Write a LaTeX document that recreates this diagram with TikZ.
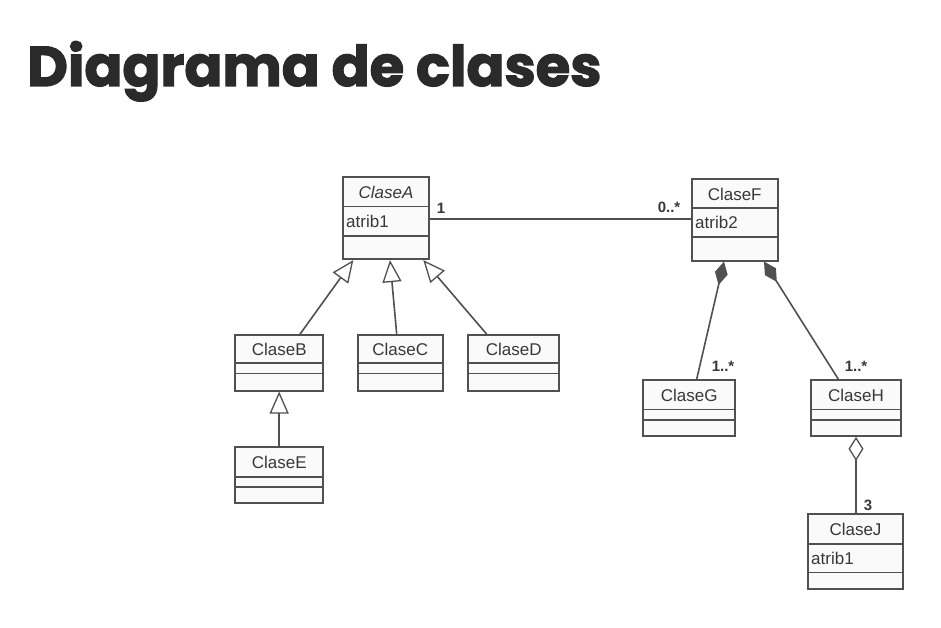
\documentclass[tikz,border=0pt]{standalone}
\usepackage{fontspec}
\setmainfont{Liberation Sans}
\newfontfamily\titlefont{Poppins}[BoldFeatures={FakeBold=2.2}]
\usetikzlibrary{arrows.meta}
\definecolor{ln}{HTML}{505050}
\definecolor{tx}{HTML}{383838}
\definecolor{ttl}{HTML}{2A2A2A}
\definecolor{bx}{HTML}{FAFAFA}
\tikzset{
  cls/.style={draw=ln, line width=1.7pt, fill=bx, inner sep=0pt},
  nm/.style={text=tx, font=\fontsize{17}{19}\selectfont, inner sep=0pt, anchor=center},
  attr/.style={text=tx, font=\fontsize{17}{19}\selectfont, inner sep=0pt, anchor=west},
  mult/.style={text=tx, font=\bfseries\fontsize{15}{17}\selectfont, inner sep=0pt},
  rel/.style={draw=ln, line width=1.6pt},
  gen/.style={rel, -{Triangle[open, length=22pt, width=19pt, line width=1.3pt, fill=white]}},
  comp/.style={rel, {Diamond[length=24pt, width=13pt, fill=ln]}-},
  aggr/.style={rel, {Diamond[open, length=24pt, width=15pt, line width=1.3pt, fill=white]}-},
}
% \umlclass{id}{x1}{y1}{x2}{y2}{d1}{d2}
\newcommand{\umlclass}[7]{%
  \node[cls, minimum width={(#4-#2)*1pt}, minimum height={(#5-#3)*1pt}] (#1) at ({(#2+#4)/2},{(#3+#5)/2}) {};
  \draw[ln, line width=1.6pt] (#1.west |- 0,#6) -- (#1.east |- 0,#6);
  \draw[ln, line width=1.6pt] (#1.west |- 0,#7) -- (#1.east |- 0,#7);
}
\begin{document}
\begin{tikzpicture}[x=1pt, y=-1pt]
\useasboundingbox (0,0) rectangle (941,628);
\fill[white] (0,0) rectangle (941,628);

\node[anchor=base west, inner sep=0pt, text=ttl, font=\titlefont\bfseries\fontsize{56}{60}\selectfont] (title) at (27,86) {Diagrama de clases};

% classes
\umlclass{A}{342.7}{176.7}{429.3}{259.3}{206.7}{236}
\umlclass{B}{235}{335}{323.3}{390.7}{362.7}{373.3}
\umlclass{C}{357.7}{335}{442.7}{390.7}{362.7}{373.3}
\umlclass{D}{468.3}{335}{559.3}{390.7}{362.7}{373.3}
\umlclass{E}{235}{447.3}{323.3}{503.3}{476.7}{486.7}
\umlclass{F}{691.7}{179.3}{777.7}{260.7}{208.3}{236.7}
\umlclass{G}{643.3}{380}{735}{436}{409.3}{420}
\umlclass{H}{811}{380}{901}{436}{409.3}{420}
\umlclass{J}{807.7}{514.3}{903.3}{589.3}{544}{572.3}

% names
\node[nm, font=\itshape\fontsize{17}{19}\selectfont] (nA) at (386,192) {ClaseA};
\node[attr] (aA) at (346,221) {atrib1};
\node[nm] (nB) at (279.2,349.5) {ClaseB};
\node[nm] (nC) at (400.2,349.5) {ClaseC};
\node[nm] (nD) at (513.8,349.5) {ClaseD};
\node[nm] (nE) at (279.2,462.5) {ClaseE};
\node[nm] (nF) at (734.7,194) {ClaseF};
\node[attr] (aF) at (695,222) {atrib2};
\node[nm] (nG) at (689.2,395) {ClaseG};
\node[nm] (nH) at (856,395) {ClaseH};
\node[nm] (nJ) at (855.5,529.5) {ClaseJ};
\node[attr] (aJ) at (811,558) {atrib1};

% generalizations
\draw[gen] (B.north -| 300,0) -- (A.south -| 353.3,0);
\draw[gen] (C.north -| 396.7,0) -- (A.south -| 390,0);
\draw[gen] (D.north -| 486.7,0) -- (A.south -| 423.3,0);
\draw[gen] (E.north) -- (B.south);

% association
\draw[rel] (A.east |- 0,219.3) -- (F.west |- 0,219.3);
\node[mult] (m1) at (441,208) {1};
\node[mult] (m2) at (669,207) {0..*};

% compositions
\draw[comp] (F.south -| 724,0) -- (G.north -| 696.7,0);
\draw[comp] (F.south -| 764,0) -- (H.north -| 838.3,0);
\node[mult] (m3) at (723,366) {1..*};
\node[mult] (m4) at (856,366) {1..*};

% aggregation
\draw[aggr] (H.south -| 856,0) -- (J.north -| 856,0);
\node[mult] (m5) at (868,505) {3};
\end{tikzpicture}
\end{document}
